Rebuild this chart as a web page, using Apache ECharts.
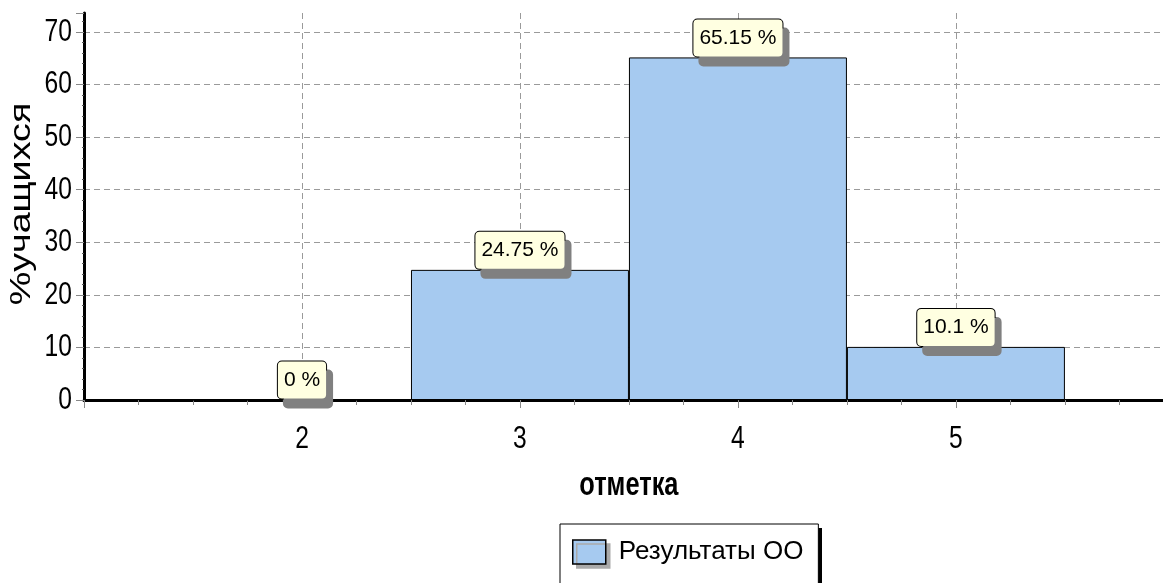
<!DOCTYPE html>
<html>
<head>
<meta charset="utf-8">
<script src="https://cdn.jsdelivr.net/npm/echarts@6/dist/echarts.min.js"></script>
<style>
html,body{margin:0;padding:0;background:#fff;}
#c{width:1163px;height:583px;}
</style>
</head>
<body>
<div id="c"></div>
<script>
// Data
var categories = [2, 3, 4, 5];
var values = [0, 24.75, 65.15, 10.1];
var seriesName = 'Результаты ОО';
var yTicks = [0, 10, 20, 30, 40, 50, 60, 70];
var yAxisTitle = '%учащихся';
var xAxisTitle = 'отметка';

var FONT = '"Liberation Sans", Arial, sans-serif';
var chart = echarts.init(document.getElementById('c'));
var barData = categories.map(function (c, i) { return [c, values[i]]; });

chart.setOption({
  backgroundColor: '#ffffff',
  animation: false,
  grid: { left: 84, right: 0, top: 13, bottom: 183 },
  xAxis: {
    type: 'value', min: 1, max: 5.95, interval: 1,
    name: xAxisTitle, nameLocation: 'middle', nameGap: 69,
    nameTextStyle: { fontFamily: FONT, fontWeight: 'bold', fontSize: 33, color: '#000', padding: [0, 0, 0, 14] },
    axisLine: { show: true, onZero: false, lineStyle: { color: '#000', width: 3 } },
    axisTick: { show: true, length: 8, lineStyle: { color: '#888', width: 1 } },
    minorTick: { show: true, splitNumber: 4, length: 5, lineStyle: { color: '#888', width: 1 } },
    axisLabel: {
      margin: 23, fontFamily: FONT, fontSize: 32, color: '#000', showMaxLabel: false,
      formatter: function (v) { return categories.indexOf(v) >= 0 ? String(v) : ''; }
    },
    splitLine: { show: true, showMinLine: false, showMaxLine: false, lineStyle: { color: '#9a9a9a', type: [6, 4], width: 1 } }
  },
  yAxis: {
    type: 'value', min: yTicks[0], max: 73.6, interval: 10,
    axisLine: { show: true, lineStyle: { color: '#000', width: 3 } },
    axisTick: { show: true, length: 8, lineStyle: { color: '#888', width: 1 } },
    minorTick: { show: true, splitNumber: 5, length: 2, lineStyle: { color: '#555', width: 1 } },
    axisLabel: {
      margin: 12, fontFamily: FONT, fontSize: 32, color: '#000', showMaxLabel: false,
      formatter: function (v) { return yTicks.indexOf(v) >= 0 ? String(v) : ''; }
    },
    splitLine: { show: true, showMinLine: false, showMaxLine: false, lineStyle: { color: '#9a9a9a', type: [6, 4], width: 1 } }
  },
  legend: {
    show: true, left: 560, top: 524, z: 5,
    padding: [15, 15, 22, 12],
    backgroundColor: '#ffffff', borderColor: '#000', borderWidth: 1,
    itemWidth: 33, itemHeight: 24, icon: 'rect',
    itemStyle: { borderColor: '#000', borderWidth: 1.5, shadowColor: '#aaa', shadowOffsetX: 4, shadowOffsetY: 4, shadowBlur: 0 },
    textStyle: { fontFamily: FONT, fontSize: 26, color: '#000', padding: [0, 0, 0, 8] },
    data: [seriesName]
  },
  graphic: [{
    type: 'rect', z: 1, shape: { x: 564, y: 528, width: 258, height: 70 },
    style: { fill: '#000' }
  }, {
    type: 'text', x: 22, y: 204, rotation: Math.PI / 2, scaleX: 1.3, scaleY: 1,
    style: { text: yAxisTitle, font: '29px "Liberation Sans", Arial, sans-serif', fill: '#000', align: 'center', verticalAlign: 'middle' }
  }],
  series: [{
    type: 'bar', name: seriesName, data: barData, barWidth: '100%',
    itemStyle: { color: '#A6CAF0', borderColor: '#000', borderWidth: 1 },
    label: {
      show: true, position: 'top', distance: 1,
      formatter: function (p) { return p.value[1] + ' %'; },
      fontFamily: FONT, fontSize: 21, color: '#000',
      backgroundColor: '#FFFFE1', borderColor: '#000', borderWidth: 1, borderRadius: 4,
      padding: [8, 6, 8, 6],
      shadowColor: '#808080', shadowOffsetX: 6, shadowOffsetY: 9, shadowBlur: 0
    }
  }]
});

// Make axis texts tall and narrow like the reference
var narrowTexts = {};
categories.forEach(function (c) { narrowTexts[String(c)] = 1; });
yTicks.forEach(function (t) { narrowTexts[String(t)] = 1; });
narrowTexts[xAxisTitle] = 1;
(function () {
  var zr = chart.getZr();
  function walk(el) {
    if (el.isGroup) { el.eachChild(walk); return; }
    if (el.type === 'text' && el.style && narrowTexts[el.style.text]) {
      el.scaleX = 0.77;
      el.markRedraw();
    }
  }
  zr.storage.getRoots().forEach(walk);
  zr.refreshImmediately();
})();
</script>
</body>
</html>
